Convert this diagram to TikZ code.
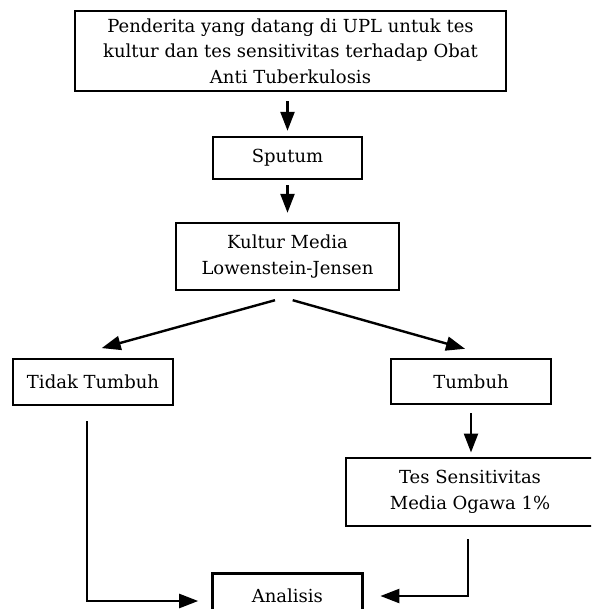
\documentclass[tikz,border=0pt]{standalone}
\usepackage{fontspec}
\setmainfont{DejaVu Serif}
\usetikzlibrary{arrows.meta,calc}
\tikzset{
  box/.style={draw, line width=2.4pt, rectangle, inner sep=0pt, align=center,
    font=\fontsize{18}{25.5}\selectfont},
  arr/.style={line width=2.4pt, -{Triangle[length=19pt,width=14pt]}}
}
\begin{document}
\begin{tikzpicture}[x=1pt,y=-1pt]
\clip (0,0) rectangle (591,609);
\node[box, minimum width=431pt, minimum height=80pt] (top) at (290.5,51)
  {Penderita yang datang di UPL untuk tes\\kultur dan tes sensitivitas terhadap Obat\\Anti Tuberkulosis};
\node[box, minimum width=149pt, minimum height=42pt] (sputum) at (287.5,158) {Sputum};
\node[box, minimum width=223pt, minimum height=67pt] (kultur) at (287.5,256.5) {Kultur Media\\Lowenstein-Jensen};
\node[box, minimum width=160pt, minimum height=46pt] (tidak) at (93,382) {Tidak Tumbuh};
\node[box, minimum width=160pt, minimum height=45pt] (tumbuh) at (471,381.5) {Tumbuh};
\node[box, minimum width=248pt, minimum height=68pt] (tes) at (470,491.7) {Tes Sensitivitas\\Media Ogawa 1\%};
\node[box, minimum width=150pt, minimum height=44pt] (analisis) at (287.4,595.5) {Analisis};

\draw[arr, shorten <=9pt, shorten >=5pt] (top.south -| sputum.north) -- (sputum.north);
\draw[arr, shorten <=5pt, shorten >=9pt] (sputum.south) -- (kultur.north);
\draw[arr] ($(kultur.south)+(-12.5,9)$) -- ($(tidak.north)+(8.7,-9.7)$);
\draw[arr] ($(kultur.south)+(5.2,9)$) -- ($(tumbuh.north)+(-6,-9)$);
\draw[arr, shorten <=8pt, shorten >=4pt] (tumbuh.south) -- (tumbuh.south |- tes.north);
\draw[arr] ($(tidak.south)+(-6.3,15)$) |- ($(analisis.west)+(-13,5.5)$);
\draw[arr] ($(tes.south)+(-2.3,12.3)$) |- ($(analisis.east)+(16.8,0.5)$);
\end{tikzpicture}
\end{document}
